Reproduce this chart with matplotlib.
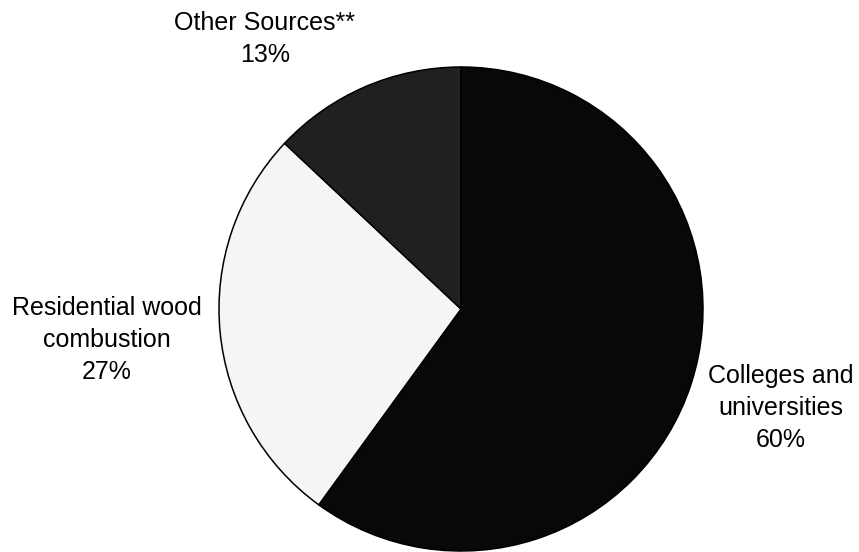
import matplotlib
matplotlib.use("Agg")
import matplotlib.pyplot as plt

labels = ["Colleges and\nuniversities", "Residential wood\ncombustion", "Other Sources**"]
shares = [60, 27, 13]
colors = ["#080808", "#f5f5f5", "#202020"]
# label centres in pixel coords (x, y from top)
label_xy = [(781, 408), (107, 340), (265, 39)]

W, H = 859, 552
fig = plt.figure(figsize=(W / 100, H / 100), dpi=100)
ax = fig.add_axes([0, 0, 1, 1])

ax.pie(shares, colors=colors, startangle=90, counterclock=False,
       center=(461, H - 309), radius=242, frame=True,
       wedgeprops=dict(edgecolor="black", linewidth=1.1))
ax.set_xlim(0, W)
ax.set_ylim(0, H)
ax.axis("off")

for lab, val, (x, y) in zip(labels, shares, label_xy):
    ax.text(x, H - y, f"{lab}\n{val}%", ha="center", va="center",
            multialignment="center", fontsize=18, linespacing=1.42,
            family="Liberation Sans", color="black")

fig.savefig("out.png", dpi=100)
